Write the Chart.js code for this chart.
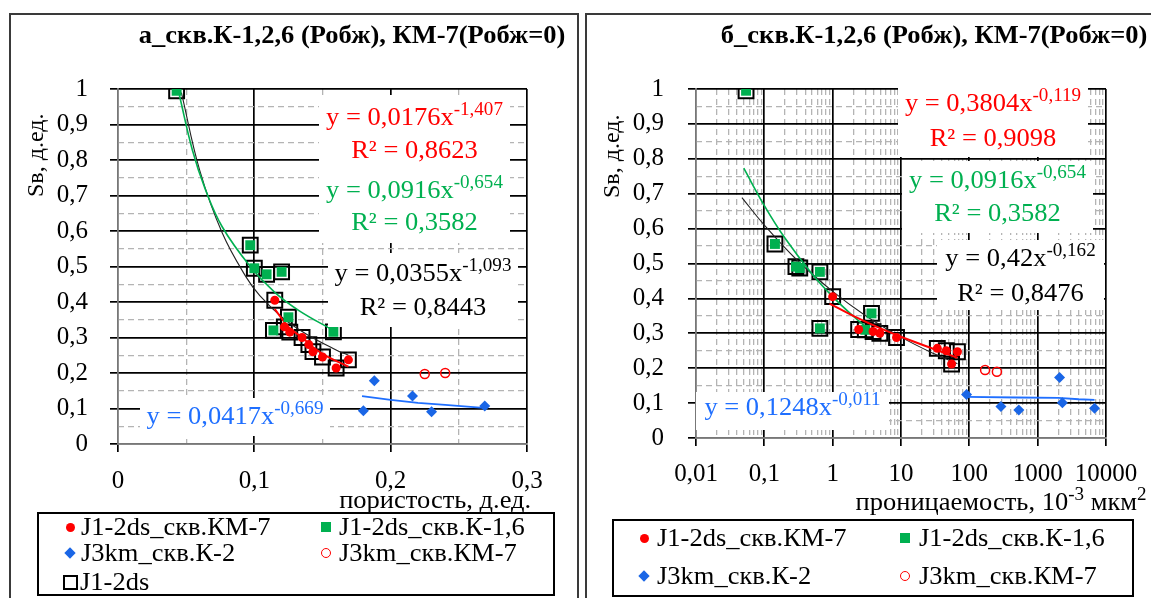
<!DOCTYPE html>
<html><head><meta charset="utf-8">
<script src="https://cdn.jsdelivr.net/npm/chart.js@4.4.1/dist/chart.umd.min.js"></script>
<style>
html,body{margin:0;padding:0;background:#fff;}
body{width:1151px;height:598px;position:relative;overflow:hidden;font-family:'Liberation Serif','Times New Roman',serif;color:#000;}
.frame{position:absolute;border:2px solid #3a3a3a;box-sizing:border-box;}
canvas{position:absolute;}
.t{position:absolute;white-space:nowrap;font-size:25px;line-height:30px;}
.sx{transform:scaleX(1.06);transform-origin:100% 50%;}
.title{font-weight:bold;font-size:25px;text-align:right;}
.ytitle{font-size:24px;transform-origin:0 0;transform:rotate(-90deg);}
.eq{position:absolute;background:#fff;font-size:25px;text-align:center;}
.eq div{position:absolute;left:0;right:0;white-space:nowrap;line-height:30px;transform:scaleX(1.06);transform-origin:50% 50%;}
sup{font-size:18px;vertical-align:baseline;position:relative;top:-10px;}
.legend{position:absolute;border:2px solid #000;box-sizing:border-box;background:#fff;}
.li{position:absolute;white-space:nowrap;font-size:25px;line-height:30px;transform:scaleX(1.06);transform-origin:0 50%;}
.mk{position:absolute;box-sizing:border-box;}
</style></head>
<body>
<div class="frame" style="left:9px;top:13px;width:570px;height:600px;"></div>
<div class="frame" style="left:585px;top:13px;width:580px;height:600px;"></div>

<canvas id="ca" width="566" height="480" style="left:10px;top:14px;"></canvas>
<canvas id="cb" width="565" height="474" style="left:586px;top:14px;"></canvas>

<!-- titles -->
<div class="t title sx" style="right:586px;top:20px;">а_скв.К-1,2,6 (Робж), КМ-7(Робж=0)</div>
<div class="t title sx" style="right:4px;top:20px;">б_скв.К-1,2,6 (Робж), КМ-7(Робж=0)</div>

<!-- axis titles -->
<div class="t ytitle" style="left:20px;top:197px;">Sв, д.ед.</div>
<div class="t ytitle" style="left:596px;top:198px;">Sв, д.ед.</div>
<div class="t sx" style="right:620px;top:485px;">пористость, д.ед.</div>
<div class="t sx" style="right:4px;top:487px;">проницаемость, 10<sup>-3</sup> мкм<sup>2</sup></div>

<!-- equations panel a -->
<div class="eq" style="left:319px;top:95px;width:191px;height:148px;">
  <div style="top:7px;color:#ff0000;">y = 0,0176x<sup>-1,407</sup></div>
  <div style="top:40px;color:#ff0000;">R² = 0,8623</div>
  <div style="top:80px;color:#00b050;">y = 0,0916x<sup>-0,654</sup></div>
  <div style="top:112px;color:#00b050;">R² = 0,3582</div>
</div>
<div class="eq" style="left:328px;top:253px;width:190px;height:74px;">
  <div style="top:5px;">y = 0,0355x<sup>-1,093</sup></div>
  <div style="top:39px;">R² = 0,8443</div>
</div>
<div class="eq" style="left:140px;top:398px;width:190px;height:38px;">
  <div style="top:3px;color:#1f6fff;">y = 0,0417x<sup>-0,669</sup></div>
</div>

<!-- equations panel b -->
<div class="eq" style="left:898px;top:86px;width:190px;height:71px;">
  <div style="top:2px;color:#ff0000;">y = 0,3804x<sup>-0,119</sup></div>
  <div style="top:37px;color:#ff0000;">R² = 0,9098</div>
</div>
<div class="eq" style="left:902px;top:161px;width:191px;height:72px;">
  <div style="top:4px;color:#00b050;">y = 0,0916x<sup>-0,654</sup></div>
  <div style="top:37px;color:#00b050;">R² = 0,3582</div>
</div>
<div class="eq" style="left:937px;top:240px;width:167px;height:70px;">
  <div style="top:3px;">y = 0,42x<sup>-0,162</sup></div>
  <div style="top:38px;">R² = 0,8476</div>
</div>
<div class="eq" style="left:696px;top:392px;width:193px;height:38px;">
  <div style="top:0px;color:#1f6fff;">y = 0,1248x<sup>-0,011</sup></div>
</div>

<!-- legend a -->
<div class="legend" style="left:37px;top:512px;width:518px;height:84px;"></div>
<div class="mk" style="left:66px;top:523px;width:9px;height:9px;border-radius:50%;background:#ff0000;"></div>
<div class="li" style="left:81px;top:512px;">J1-2ds_скв.КМ-7</div>
<div class="mk" style="left:321px;top:522px;width:10px;height:10px;background:#00b050;"></div>
<div class="li" style="left:339px;top:512px;">J1-2ds_скв.К-1,6</div>
<div class="mk" style="left:66px;top:549px;width:8px;height:8px;background:#1a66e6;transform:rotate(45deg);"></div>
<div class="li" style="left:81px;top:538px;">J3km_скв.К-2</div>
<div class="mk" style="left:321px;top:548px;width:10px;height:10px;border:1.5px solid #ff0000;border-radius:50%;"></div>
<div class="li" style="left:339px;top:538px;">J3km_скв.КМ-7</div>
<div class="mk" style="left:63px;top:575px;width:15px;height:15px;border:2px solid #000;"></div>
<div class="li" style="left:80px;top:567px;">J1-2ds</div>

<!-- legend b -->
<div class="legend" style="left:612px;top:519px;width:522px;height:78px;"></div>
<div class="mk" style="left:640px;top:534px;width:9px;height:9px;border-radius:50%;background:#ff0000;"></div>
<div class="li" style="left:657px;top:523px;">J1-2ds_скв.КМ-7</div>
<div class="mk" style="left:900px;top:533px;width:10px;height:10px;background:#00b050;"></div>
<div class="li" style="left:919px;top:523px;">J1-2ds_скв.К-1,6</div>
<div class="mk" style="left:640px;top:572px;width:8px;height:8px;background:#1a66e6;transform:rotate(45deg);"></div>
<div class="li" style="left:657px;top:561px;">J3km_скв.К-2</div>
<div class="mk" style="left:900px;top:571px;width:10px;height:10px;border:1.5px solid #ff0000;border-radius:50%;"></div>
<div class="li" style="left:919px;top:561px;">J3km_скв.КМ-7</div>

<script>
// ---------- shared tick labels ----------
const yTickValues = [0, 0.1, 0.2, 0.3, 0.4, 0.5, 0.6, 0.7, 0.8, 0.9, 1];
const yTickLabels = ['0', '0,1', '0,2', '0,3', '0,4', '0,5', '0,6', '0,7', '0,8', '0,9', '1'];
const phiTickValues = [0, 0.1, 0.2, 0.3];
const phiTickLabels = ['0', '0,1', '0,2', '0,3'];
const kTickValues = [0.01, 0.1, 1, 10, 100, 1000, 10000];
const kTickLabels = ['0,01', '0,1', '1', '10', '100', '1000', '10000'];

// ---------- panel а : porosity ----------
const a_km7_phi = [0.115, 0.122, 0.126, 0.135, 0.140, 0.143, 0.150, 0.160, 0.169];
const a_km7_sw  = [0.405, 0.330, 0.315, 0.300, 0.280, 0.260, 0.245, 0.214, 0.237];
const a_k16_phi = [0.043, 0.097, 0.100, 0.109, 0.120, 0.114, 0.125, 0.158];
const a_k16_sw  = [0.995, 0.560, 0.495, 0.478, 0.485, 0.320, 0.357, 0.316];
const a_k2_phi  = [0.180, 0.188, 0.216, 0.230, 0.269];
const a_k2_sw   = [0.094, 0.178, 0.135, 0.091, 0.107];
const a_j3km7_phi = [0.225, 0.240];
const a_j3km7_sw  = [0.197, 0.200];
// trend lines
const a_trRed_x = [0.115, 0.125, 0.135, 0.145, 0.155, 0.169];
const a_trRed_y = [0.380, 0.330, 0.300, 0.267, 0.243, 0.218];
const a_trGreen_x = [0.045, 0.0547, 0.064, 0.0764, 0.097, 0.115, 0.133, 0.158];
const a_trGreen_y = [0.983, 0.826, 0.718, 0.612, 0.500, 0.427, 0.375, 0.320];
const a_trBlack_x = [0.0465, 0.060, 0.0764, 0.094, 0.104, 0.121, 0.138, 0.160, 0.169];
const a_trBlack_y = [0.990, 0.770, 0.595, 0.470, 0.418, 0.355, 0.310, 0.265, 0.250];
const a_trBlue_x = [0.179, 0.200, 0.220, 0.240, 0.268];
const a_trBlue_y = [0.135, 0.124, 0.116, 0.110, 0.102];

// ---------- panel б : permeability ----------
const b_km7_k  = [1.0, 2.4, 3.9, 4.9, 8.6, 34, 46, 55, 67];
const b_km7_sw = [0.405, 0.311, 0.305, 0.300, 0.288, 0.257, 0.250, 0.212, 0.247];
const b_k16_k  = [0.054, 0.143, 0.29, 0.33, 0.65, 0.65, 3.7, 3.0];
const b_k16_sw = [0.995, 0.556, 0.491, 0.487, 0.476, 0.314, 0.357, 0.310];
const b_k2_k   = [91, 290, 530, 2090, 2300, 6800];
const b_k2_sw  = [0.125, 0.090, 0.080, 0.173, 0.101, 0.085];
const b_j3km7_k  = [170, 253];
const b_j3km7_sw = [0.195, 0.190];
// trend lines
const b_trRed_x = [0.9, 2, 5, 10, 30, 67];
const b_trRed_y = [0.385, 0.350, 0.314, 0.290, 0.255, 0.230];
const b_trGreen_x = [0.05, 0.1, 0.2, 0.5, 1, 2, 3.7];
const b_trGreen_y = [0.773, 0.666, 0.573, 0.470, 0.405, 0.349, 0.305];
const b_trBlack_x = [0.047, 0.1, 0.3, 1, 3, 10, 30, 67];
const b_trBlack_y = [0.689, 0.610, 0.510, 0.420, 0.351, 0.289, 0.242, 0.213];
const b_trBlue_x = [91, 500, 2000, 4000, 6800];
const b_trBlue_y = [0.118, 0.116, 0.115, 0.111, 0.109];

// ---------- helpers ----------
const FONT = "'Liberation Serif', 'Times New Roman', serif";
Chart.defaults.font.family = FONT;
Chart.defaults.color = '#000';
const RED = '#ff0000', GREEN = '#00b050', BLUE = '#1a66e6', BLUEL = '#1f6fff';

const pts = (xs, ys) => xs.map((x, i) => ({x: x, y: ys[i]}));
const isMajor = v => Math.abs(v * 10 - Math.round(v * 10)) < 1e-6;

function datasetsFor(km7x, km7y, k16x, k16y, k2x, k2y, j3x, j3y, tr) {
  return [
    {label: 'J1-2ds_скв.КМ-7', data: pts(km7x, km7y), pointStyle: 'circle', pointRadius: 4.5,
     backgroundColor: RED, borderColor: RED, borderWidth: 0, order: 2},
    {label: 'J1-2ds_скв.К-1,6', data: pts(k16x, k16y), pointStyle: 'rect', pointRadius: 7,
     backgroundColor: GREEN, borderColor: GREEN, borderWidth: 0, order: 3},
    {label: 'J3km_скв.К-2', data: pts(k2x, k2y), pointStyle: 'rectRot', pointRadius: 5.5,
     backgroundColor: BLUE, borderColor: BLUE, borderWidth: 0, order: 2},
    {label: 'J3km_скв.КМ-7', data: pts(j3x, j3y), pointStyle: 'circle', pointRadius: 4.5,
     backgroundColor: 'rgba(255,255,255,0)', borderColor: RED, borderWidth: 1.5, order: 2},
    {label: 'J1-2ds', data: pts(km7x.concat(k16x), km7y.concat(k16y)), pointStyle: 'rect', pointRadius: 10.5,
     backgroundColor: 'rgba(255,255,255,0)', borderColor: '#000', borderWidth: 2, order: 10},
    {label: 'trend КМ-7', data: pts(tr.rx, tr.ry), showLine: true, pointRadius: 0, borderColor: RED, borderWidth: 2, tension: 0.4, order: 5},
    {label: 'trend К-1,6', data: pts(tr.gx, tr.gy), showLine: true, pointRadius: 0, borderColor: GREEN, borderWidth: 1.6, tension: 0.4, order: 5},
    {label: 'trend J1-2ds', data: pts(tr.kx, tr.ky), showLine: true, pointRadius: 0, borderColor: '#222', borderWidth: 1.1, tension: 0.4, order: 5},
    {label: 'trend К-2', data: pts(tr.bx, tr.by), showLine: true, pointRadius: 0, borderColor: BLUEL, borderWidth: 1.8, tension: 0, order: 5}
  ].map(d => Object.assign(d, {xAxisID: 'x', yAxisID: 'y'}));
}

function yScales(pad) {
  return {
    y: {
      type: 'linear', min: 0, max: 1, z: 0,
      afterFit: s => { s.width = s.chart.canvas.id === 'ca' ? 108 : 110; },
      afterBuildTicks: s => { s.ticks = yTickValues.map(v => ({value: v})); },
      ticks: {padding: pad, color: '#000', font: {size: 25, family: FONT}, callback: (v, i) => yTickLabels[i]},
      grid: {color: c => (c.tick && c.tick.value === 0) ? '#777' : '#000', lineWidth: 1.7, tickLength: 8, tickColor: '#000', tickWidth: 1.7},
      border: {display: true, color: '#777', width: 1.5}
    },
    y2: {
      type: 'linear', min: 0, max: 1, position: 'left', z: -1,
      afterFit: s => { s.width = 0; },
      ticks: {display: false, stepSize: 0.05},
      grid: {color: c => (c.tick && isMajor(c.tick.value)) ? 'rgba(0,0,0,0)' : '#b4b4b4', lineWidth: 1.3, drawTicks: false},
      border: {display: false, dash: [6, 4]}
    }
  };
}

// ---------- chart а ----------
const trA = {rx: a_trRed_x, ry: a_trRed_y, gx: a_trGreen_x, gy: a_trGreen_y, kx: a_trBlack_x, ky: a_trBlack_y, bx: a_trBlue_x, by: a_trBlue_y};
new Chart(document.getElementById('ca'), {
  type: 'scatter',
  data: {datasets: datasetsFor(a_km7_phi, a_km7_sw, a_k16_phi, a_k16_sw, a_k2_phi, a_k2_sw, a_j3km7_phi, a_j3km7_sw, trA)},
  options: {
    responsive: false, animation: false, events: [],
    layout: {padding: {left: 0, right: 49, top: 75, bottom: 0}},
    plugins: {legend: {display: false}, tooltip: {enabled: false}, title: {display: false}},
    scales: Object.assign({
      x: {
        type: 'linear', min: 0, max: 0.3, position: 'bottom', z: 0,
        afterFit: s => { s.height = 50; },
        afterBuildTicks: s => { s.ticks = phiTickValues.map(v => ({value: v})); },
        ticks: {padding: 14, color: '#000', maxRotation: 0, font: {size: 25, family: FONT}, callback: (v, i) => phiTickLabels[i]},
        grid: {color: c => (c.tick && c.tick.value === 0) ? '#888' : '#000', lineWidth: 1.7, tickLength: 8, tickColor: '#000', tickWidth: 1.7},
        border: {display: true, color: '#777', width: 1.5}
      },
      x2: {
        type: 'linear', min: 0, max: 0.3, position: 'bottom', z: -1,
        afterFit: s => { s.height = 0; },
        ticks: {display: false, stepSize: 0.05},
        grid: {color: c => (c.tick && isMajor(c.tick.value)) ? 'rgba(0,0,0,0)' : '#b4b4b4', lineWidth: 1.3, drawTicks: false},
        border: {display: false, dash: [6, 4]}
      }
    }, yScales(22))
  }
});

// ---------- chart б ----------
const trB = {rx: b_trRed_x, ry: b_trRed_y, gx: b_trGreen_x, gy: b_trGreen_y, kx: b_trBlack_x, ky: b_trBlack_y, bx: b_trBlue_x, by: b_trBlue_y};
new Chart(document.getElementById('cb'), {
  type: 'scatter',
  data: {datasets: datasetsFor(b_km7_k, b_km7_sw, b_k16_k, b_k16_sw, b_k2_k, b_k2_sw, b_j3km7_k, b_j3km7_sw, trB)},
  options: {
    responsive: false, animation: false, events: [],
    layout: {padding: {left: 0, right: 45, top: 75, bottom: 0}},
    plugins: {legend: {display: false}, tooltip: {enabled: false}, title: {display: false}},
    scales: Object.assign({
      x: {
        type: 'logarithmic', min: 0.01, max: 10000, position: 'bottom', z: 0,
        afterFit: s => { s.height = 50; },
        afterBuildTicks: s => { s.ticks = kTickValues.map(v => ({value: v, major: true})); },
        ticks: {padding: 13, color: '#000', maxRotation: 0, autoSkip: false, font: {size: 25, family: FONT}, callback: (v, i) => kTickLabels[i]},
        grid: {color: c => (c.tick && c.tick.value === 0.01) ? '#888' : '#000', lineWidth: 1.7, tickLength: 8, tickColor: '#000', tickWidth: 1.7},
        border: {display: true, color: '#777', width: 1.5}
      },
      x2: {
        type: 'logarithmic', min: 0.01, max: 10000, position: 'bottom', z: -1,
        afterFit: s => { s.height = 0; },
        afterBuildTicks: s => {
          const t = [];
          kTickValues.slice(0, -1).forEach(d => { for (let m = 2; m <= 9; m++) t.push({value: d * m}); });
          s.ticks = t;
        },
        ticks: {display: false, autoSkip: false},
        grid: {color: '#b4b4b4', lineWidth: 1.3, drawTicks: false},
        border: {display: false, dash: [6, 4]}
      }
    }, yScales(24))
  }
});
</script>
</body></html>
